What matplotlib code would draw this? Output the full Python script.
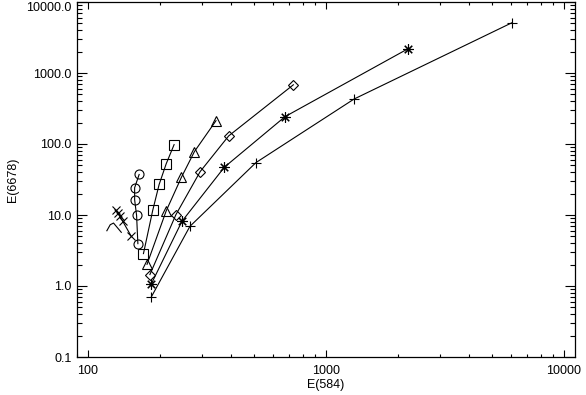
import matplotlib
matplotlib.use("Agg")
import matplotlib.pyplot as plt
from matplotlib.ticker import FixedLocator, FixedFormatter, LogLocator, NullFormatter

plt.rcParams['font.family'] = ['Liberation Sans', 'DejaVu Sans']

# series data (E(584), E(6678))
plus_x = [184, 268, 508, 1312, 6050]
plus_y = [0.69, 6.92, 54.8, 430, 5117]
ast_x = [184, 248, 374, 673, 2218]
ast_y = [1.05, 8.13, 47.1, 243, 2209]
dia_x = [182, 234, 296, 390, 729]
dia_y = [1.45, 10.1, 40.9, 130, 682]
tri_x = [177, 213, 247, 280, 345]
tri_y = [2.02, 11.4, 34.1, 78.2, 213]
sq_x = [171, 187, 199, 213, 230]
sq_y = [2.86, 11.6, 26.9, 52.5, 98]
circ_x = [162, 160, 157, 157, 164]
circ_y = [3.95, 9.86, 16.4, 24.2, 37.2]
xs_x = [131, 134, 136, 140, 152]
xs_y = [11.6, 10.5, 9.55, 8.13, 5.0]
ln_x = [120, 124, 128, 138]
ln_y = [6.0, 7.3, 7.7, 5.7]

xticks = [100, 1000, 10000]
xticklabels = ["100", "1000", "10000"]
yticks = [0.1, 1, 10, 100, 1000, 10000]
yticklabels = ["0.1", "1.0", "10.0", "100.0", "1000.0", "10000.0"]

W, H = 586, 395
fig = plt.figure(figsize=(W/100, H/100), dpi=100)
ax = fig.add_axes([77/W, (H-357)/H, (575-77)/W, (357-2)/H])
ax.set_xscale('log')
ax.set_yscale('log')
ax.set_xlim(89.9, 11120)
ax.set_ylim(0.1, 10000)

lw = 0.8
ms = 6.5
kw = dict(color='black', lw=lw, markerfacecolor='none', markeredgecolor='black', markeredgewidth=0.8)
ax.plot(plus_x, plus_y, marker='+', ms=ms+1, **kw)
ax.plot(ast_x, ast_y, marker=(8, 2, 0), ms=ms+1, **kw)
ax.plot(dia_x, dia_y, marker='D', ms=ms-1.5, **kw)
ax.plot(tri_x, tri_y, marker='^', ms=ms, **kw)
ax.plot(sq_x, sq_y, marker='s', ms=ms, **kw)
ax.plot(circ_x, circ_y, marker='o', ms=ms, **kw)
ax.plot(xs_x, xs_y, marker='x', ms=ms-1, **kw)
ax.plot(ln_x, ln_y, **kw)

ax.xaxis.set_major_locator(FixedLocator(xticks))
ax.xaxis.set_major_formatter(FixedFormatter(xticklabels))
ax.xaxis.set_minor_locator(LogLocator(base=10, subs=range(2, 10), numticks=20))
ax.xaxis.set_minor_formatter(NullFormatter())
ax.yaxis.set_major_locator(FixedLocator(yticks))
ax.yaxis.set_major_formatter(FixedFormatter(yticklabels))
ax.yaxis.set_minor_locator(LogLocator(base=10, subs=range(2, 10), numticks=20))
ax.yaxis.set_minor_formatter(NullFormatter())

ax.tick_params(axis='x', which='major', direction='in', length=5, width=0.8, top=True, bottom=True, labelsize=9, pad=6)
ax.tick_params(axis='x', which='minor', direction='in', length=2.5, width=0.8, top=True, bottom=True)
ax.tick_params(axis='y', which='major', direction='in', length=7.2, width=0.8, left=True, right=True, labelsize=9, pad=4)
ax.tick_params(axis='y', which='minor', direction='in', length=3.6, width=0.8, left=True, right=True)
for s in ax.spines.values():
    s.set_linewidth(0.9)

ax.set_xlabel("E(584)", fontsize=9, labelpad=1)
ax.set_ylabel("E(6678)", fontsize=9, labelpad=5)

fig.canvas.draw()
ylabs = ax.yaxis.get_ticklabels()
ylabs[-1].set_va('top')

fig.savefig("out.png", dpi=100)
